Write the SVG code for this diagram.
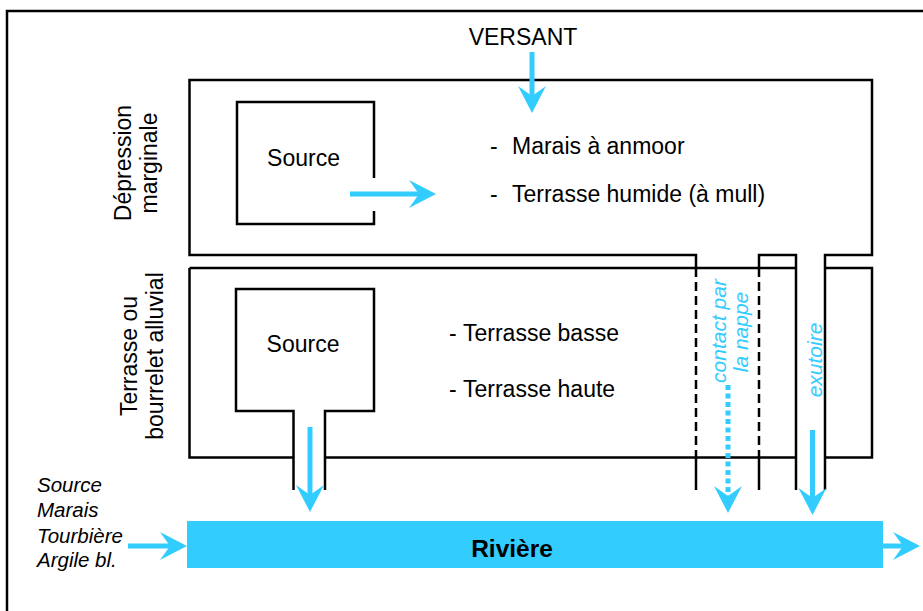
<svg xmlns="http://www.w3.org/2000/svg" width="923" height="611" viewBox="0 0 923 611">
<defs>
<style>
.ln{fill:none;stroke:#000;stroke-width:2.5}
.dash{fill:none;stroke:#000;stroke-width:2.5;stroke-dasharray:9 5}
.blue{fill:none;stroke:#33CCFF;stroke-width:5}
.dot{fill:none;stroke:#33CCFF;stroke-width:5;stroke-dasharray:5 3.5}
.t{font-family:"Liberation Sans",Arial,sans-serif;font-size:23px;fill:#000}
.it{font-family:"Liberation Sans",Arial,sans-serif;font-size:20.5px;font-style:italic;fill:#000}
.bt{font-family:"Liberation Sans",Arial,sans-serif;font-size:21px;font-style:italic;fill:#33CCFF}
</style>
<marker id="ah" viewBox="0 0 27 28" refX="10" refY="14" markerWidth="27" markerHeight="28" markerUnits="userSpaceOnUse" orient="auto">
<path d="M0,0 L27,14 L0,28 L10,14 Z" fill="#33CCFF"/>
</marker>
</defs>
<rect width="923" height="611" fill="#fff"/>
<path class="ln" d="M7,620 V11 H926" stroke-width="2"/>

<g id="versant">
<text class="t" x="523" y="45" text-anchor="middle">VERSANT</text>
</g>

<g id="depression">
<path class="ln" d="M696,268 V255 H189.5 V80 H872 V255 H825 V490"/>
<text class="t" transform="translate(131,163) rotate(-90)" text-anchor="middle">Dépression</text>
<text class="t" transform="translate(157,163) rotate(-90)" text-anchor="middle">marginale</text>
<text class="t" x="490" y="154">-<tspan x="512">Marais à anmoor</tspan></text>
<text class="t" x="490" y="202">-<tspan x="512">Terrasse humide (à mull)</tspan></text>
</g>

<g id="source1">
<path class="ln" d="M374,178 V102 H237 V224 H374 V211"/>
<text class="t" x="303.5" y="165.5" text-anchor="middle">Source</text>
</g>

<g id="terrasse">
<path class="ln" d="M189.5,268 H796 M825,268 H872 V457.5 H825 M796,457.5 H325 M293.5,457.5 H189.5 V268"/>
<path class="ln" d="M759,268 V255 H796 V490"/>
<text class="t" transform="translate(137,356) rotate(-90)" text-anchor="middle">Terrasse ou</text>
<text class="t" transform="translate(163,356) rotate(-90)" text-anchor="middle">bourrelet alluvial</text>
<text class="t" x="449" y="341">-<tspan x="463">Terrasse basse</tspan></text>
<text class="t" x="449" y="397">-<tspan x="463">Terrasse haute</tspan></text>
</g>

<g id="source2">
<path class="ln" d="M293.5,490 V411 H236 V289 H374 V411 H325 V490"/>
<text class="t" x="303" y="351.5" text-anchor="middle">Source</text>
</g>

<g id="contact">
<path class="dash" d="M696,268 V457.5"/>
<path class="ln" d="M696,457.5 V490"/>
<path class="dash" d="M759,268 V457.5"/>
<path class="ln" d="M759,457.5 V490"/>
<text class="bt" transform="translate(726,331) rotate(-90)" text-anchor="middle">contact par</text>
<text class="bt" transform="translate(748,332) rotate(-90)" text-anchor="middle">la nappe</text>
</g>

<g id="exutoire">
<text class="bt" transform="translate(821.5,360) rotate(-90)" text-anchor="middle">exutoire</text>
</g>

<g id="riviere">
<rect x="187" y="521" width="696" height="47" fill="#33CCFF"/>
<text x="512" y="557" text-anchor="middle" style="font-family:'Liberation Sans',Arial,sans-serif;font-size:24.5px;font-weight:bold;fill:#000">Rivière</text>
</g>

<g id="sources-laterales">
<text class="it" x="37" y="492">Source</text>
<text class="it" x="37" y="517">Marais</text>
<text class="it" x="37" y="543">Tourbière</text>
<text class="it" x="37" y="567">Argile bl.</text>
</g>

<g id="connectors">
<line class="blue" x1="532" y1="52" x2="532" y2="96" marker-end="url(#ah)"/>
<line class="blue" x1="350" y1="194" x2="419" y2="194" marker-end="url(#ah)"/>
<line class="blue" x1="310" y1="427" x2="310" y2="495" marker-end="url(#ah)"/>
<line class="dot" x1="728" y1="385" x2="728" y2="496" marker-end="url(#ah)"/>
<line class="blue" x1="812.5" y1="430" x2="812.5" y2="498" marker-end="url(#ah)"/>
<line class="blue" x1="128" y1="546" x2="170" y2="546" marker-end="url(#ah)"/>
<line class="blue" x1="883" y1="546" x2="903" y2="546" marker-end="url(#ah)"/>
</g>
</svg>
